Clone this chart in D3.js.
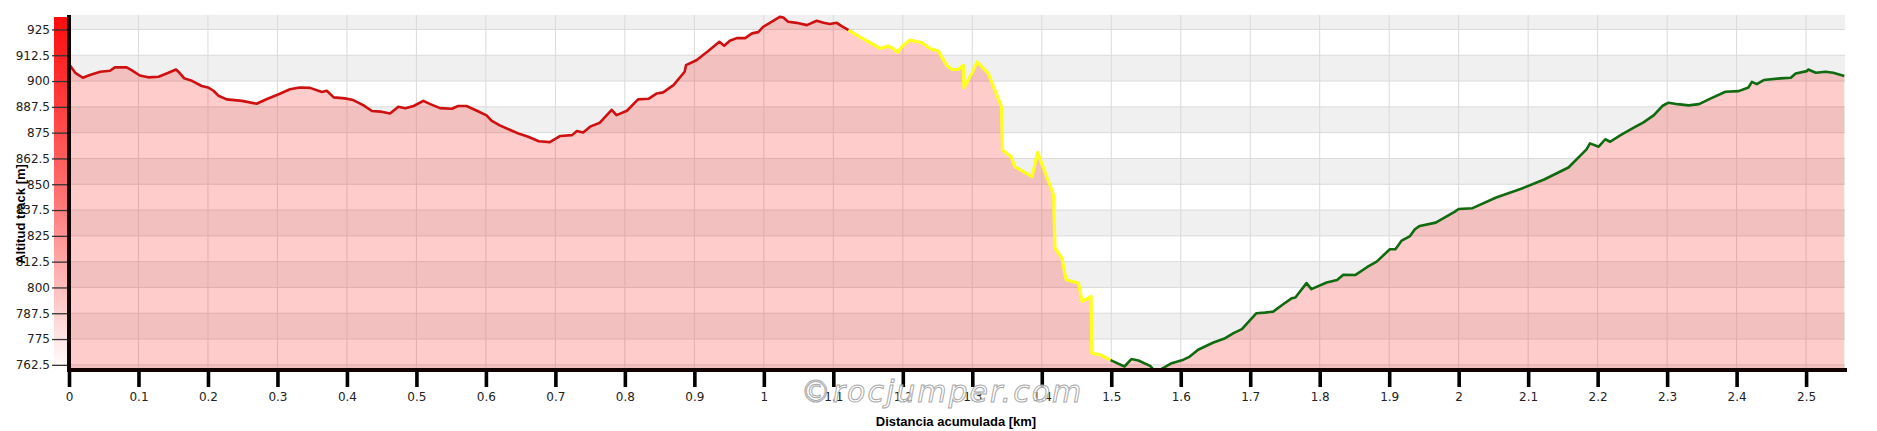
<!DOCTYPE html>
<html><head><meta charset="utf-8">
<script src="https://cdn.jsdelivr.net/npm/d3@7"></script>
<style>body{margin:0;background:#fff}svg{display:block}</style>
</head><body>
<svg id="c" width="1877" height="431"></svg>
<script>
// Track segments: [distance km, altitude m]
const redTrack = [[0,908.2],[0.009,904],[0.02,901.6],[0.03,902.9],[0.045,904.5],[0.059,905],[0.066,906.6],[0.083,906.6],[0.09,905.3],[0.102,902.7],[0.114,901.8],[0.129,902.1],[0.143,904],[0.154,905.6],[0.159,904],[0.166,901.3],[0.177,900.1],[0.191,897.6],[0.2,896.9],[0.208,895.3],[0.215,892.9],[0.227,891.1],[0.249,890.4],[0.27,889],[0.285,891.3],[0.301,893.5],[0.318,896],[0.332,896.9],[0.347,896.7],[0.364,894.7],[0.371,895.3],[0.381,892.1],[0.397,891.6],[0.409,890.8],[0.424,888.2],[0.436,885.5],[0.448,885.2],[0.462,884.3],[0.474,887.5],[0.484,886.8],[0.496,887.9],[0.51,890.4],[0.52,888.8],[0.534,886.9],[0.551,886.6],[0.56,887.9],[0.572,887.9],[0.587,885.6],[0.601,883.4],[0.608,880.8],[0.62,878.5],[0.635,876.3],[0.649,874.3],[0.661,873],[0.676,870.8],[0.692,870.4],[0.707,873.4],[0.724,873.8],[0.731,875.8],[0.74,875.1],[0.75,877.9],[0.764,879.8],[0.781,886],[0.788,883.5],[0.803,885.6],[0.819,891.1],[0.834,891.4],[0.846,894],[0.855,894.5],[0.87,898],[0.886,904.5],[0.888,907.7],[0.903,910.1],[0.92,914.6],[0.936,919],[0.943,917.1],[0.951,919.5],[0.961,920.8],[0.973,920.8],[0.983,923.1],[0.992,923.7],[0.999,926.3],[1.011,928.7],[1.023,931.1],[1.028,930.8],[1.035,928.7],[1.047,928.2],[1.062,927.1],[1.076,929.2],[1.086,928.2],[1.095,927.6],[1.105,928.2],[1.112,926.6],[1.122,924.7]];
const yellowTrack = [[1.122,924.7],[1.138,921.4],[1.155,918.2],[1.167,915.8],[1.179,916.9],[1.186,915.8],[1.192,913.9],[1.201,917.4],[1.21,919.8],[1.227,918.7],[1.239,915.8],[1.251,914.6],[1.263,907.7],[1.271,905.6],[1.28,905.6],[1.287,907.7],[1.288,896.8],[1.299,903.5],[1.307,909.3],[1.323,903.7],[1.342,887.5],[1.3435,866.6],[1.356,863.3],[1.361,858.5],[1.386,853.7],[1.394,865.3],[1.417,844.8],[1.419,819],[1.429,814.2],[1.435,803.7],[1.453,802.1],[1.458,793.2],[1.471,795.6],[1.472,768.2],[1.484,767.4],[1.499,764.8]];
const greenTrack = [[1.499,764.8],[1.519,761.7],[1.529,765.3],[1.539,764.6],[1.556,762],[1.561,760.1],[1.57,760.1],[1.587,763.3],[1.604,765],[1.613,766.5],[1.625,769.8],[1.647,773.3],[1.664,775.4],[1.676,777.9],[1.688,779.8],[1.709,787.5],[1.721,787.8],[1.733,788.3],[1.748,792],[1.76,794.8],[1.765,795.1],[1.781,802.1],[1.788,799.2],[1.81,802.4],[1.825,803.6],[1.834,806.1],[1.851,806],[1.868,809.8],[1.882,812.5],[1.901,818.5],[1.909,818.5],[1.918,822.7],[1.93,824.9],[1.937,828.2],[1.944,829.8],[1.967,831.4],[1.994,836.6],[2.0,838],[2.02,838.4],[2.054,843.6],[2.089,847.7],[2.123,852.3],[2.158,858.1],[2.184,866.9],[2.189,869.8],[2.2015,868.2],[2.211,871.8],[2.218,870.6],[2.233,873.8],[2.252,877.4],[2.266,880],[2.281,883.5],[2.293,887.9],[2.302,889.5],[2.315,888.8],[2.331,888.2],[2.346,888.8],[2.363,891.6],[2.384,894.8],[2.403,895.1],[2.417,896.9],[2.422,899.6],[2.429,898.5],[2.439,900.5],[2.463,901.3],[2.478,901.6],[2.485,903.7],[2.501,904.8],[2.503,905.6],[2.514,904],[2.528,904.5],[2.539,904],[2.555,902.4]];
const yTicks = [762.5,775,787.5,800,812.5,825,837.5,850,862.5,875,887.5,900,912.5,925];
const xTicks = [0,0.1,0.2,0.3,0.4,0.5,0.6,0.7,0.8,0.9,1,1.1,1.2,1.3,1.4,1.5,1.6,1.7,1.8,1.9,2,2.1,2.2,2.3,2.4,2.5];
const yDomain = [760, 932];
const xDomain = [0, 2.556];
const segments = [
  {track: redTrack, color: "#cf1010", width: 2.6},
  {track: yellowTrack, color: "#ffff1e", width: 3.2},
  {track: greenTrack, color: "#0f6a10", width: 2.6}
];

const svg = d3.select("#c");
const L = 69, R = 1845, T = 15, B = 370;
const x = d3.scaleLinear().domain(xDomain).range([L, R]);
const y = d3.scaleLinear().domain(yDomain).range([B, T]);

// gradient bar
const defs = svg.append("defs");
const g = defs.append("linearGradient").attr("id","gbar").attr("x1",0).attr("y1",0).attr("x2",0).attr("y2",1);
g.append("stop").attr("offset","0%").attr("stop-color","#ff0c0c");
g.append("stop").attr("offset","50%").attr("stop-color","#ff7070");
g.append("stop").attr("offset","100%").attr("stop-color","#ffffff");
svg.append("rect").attr("x",54).attr("y",T+2).attr("width",14).attr("height",B-T-2).attr("fill","url(#gbar)");

// bands
const bounds = [yDomain[0], ...yTicks, yDomain[1]];
for (let i = 0; i < bounds.length - 1; i++) {
  svg.append("rect").attr("x", L).attr("width", R - L)
    .attr("y", y(bounds[i+1])).attr("height", y(bounds[i]) - y(bounds[i+1]))
    .attr("fill", i % 2 === 0 ? "#f0f0f0" : "#ffffff");
}
// grid
svg.append("g").selectAll("line").data(yTicks).join("line")
  .attr("x1", L).attr("x2", R).attr("y1", d => y(d)).attr("y2", d => y(d))
  .attr("stroke", "#dadada").attr("stroke-width", 1);
svg.append("g").selectAll("line").data(xTicks.slice(1)).join("line")
  .attr("x1", d => x(d)).attr("x2", d => x(d)).attr("y1", T).attr("y2", B)
  .attr("stroke", "#dadada").attr("stroke-width", 1);

// area
const all = redTrack.concat(yellowTrack.slice(1), greenTrack.slice(1));
const area = d3.area().x(d => x(d[0])).y0(B).y1(d => y(d[1]));
svg.append("path").datum(all).attr("d", area).attr("fill", "rgba(255,0,0,0.2)");

// lines
const line = d3.line().x(d => x(d[0])).y(d => y(d[1]));
segments.forEach(s => {
  svg.append("path").datum(s.track).attr("d", line).attr("fill","none")
    .attr("stroke", s.color).attr("stroke-width", s.width).attr("stroke-linejoin","round");
});

// y axis
const ya = svg.append("g").attr("transform", `translate(${L-2},0)`)
  .call(d3.axisLeft(y).tickValues(yTicks).tickSize(15).tickPadding(2).tickFormat(d => String(d)));
ya.select(".domain").remove();
ya.selectAll(".tick line").attr("stroke","#333").attr("stroke-width",1.3);
ya.selectAll(".tick text").attr("fill","#222").style("font-family","DejaVu Sans").style("font-size","12px");

// x axis
const xa = svg.append("g").attr("transform", `translate(0,${B+2})`)
  .call(d3.axisBottom(x).tickValues(xTicks).tickSize(15).tickPadding(5).tickFormat(d => String(+d.toFixed(1))));
xa.select(".domain").remove();
xa.selectAll(".tick line").attr("stroke","#000").attr("stroke-width",3.6);
xa.selectAll(".tick text").attr("fill","#222").style("font-family","DejaVu Sans").style("font-size","12px");

// thick axis lines
svg.append("line").attr("x1", L).attr("x2", L).attr("y1", T).attr("y2", B+2).attr("stroke","#100").attr("stroke-width",4);
svg.append("line").attr("x1", L-2).attr("x2", R+2).attr("y1", B).attr("y2", B).attr("stroke","#100").attr("stroke-width",4);

// watermark
svg.append("text").attr("x", 942).attr("y", 402).attr("text-anchor","middle")
  .style("font-family","DejaVu Sans").style("font-style","italic").style("font-size","30px")
  .style("letter-spacing","2px")
  .attr("fill","rgba(255,255,255,0.7)").attr("stroke","#a8a8a8").attr("stroke-width",1)
  .text("©rocjumper.com");

// titles
svg.append("text").attr("x", 956).attr("y", 426).attr("text-anchor","middle")
  .style("font-family","Liberation Sans").style("font-weight","bold").style("font-size","13px")
  .attr("fill","#000").text("Distancia acumulada [km]");
svg.append("text").attr("transform","translate(25,214) rotate(-90)").attr("text-anchor","middle")
  .style("font-family","Liberation Sans").style("font-weight","bold").style("font-size","13px")
  .attr("fill","#000").text("Altitud track [m]");
</script>
</body></html>
